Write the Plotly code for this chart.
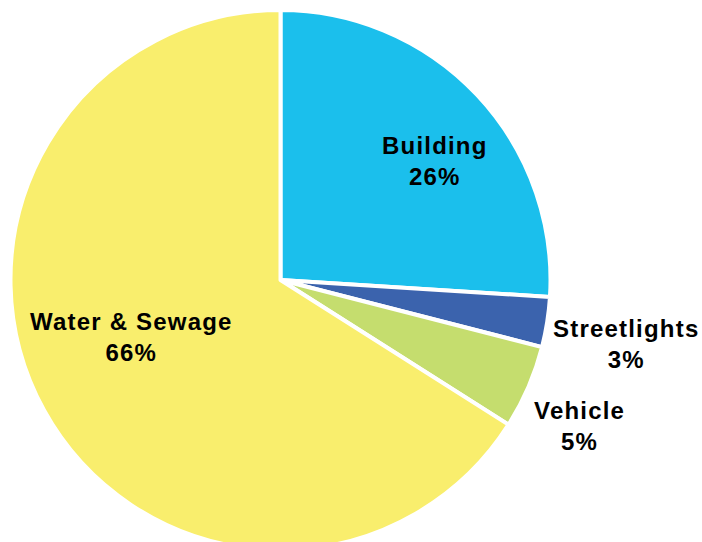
import plotly.graph_objects as go

# Energy use by sector (share of total, %)
categories = ["Building", "Streetlights", "Vehicle", "Water & Sewage"]
shares = [26, 3, 5, 66]
colors = ["#1BBFEC", "#3B63AD", "#C5DD6E", "#F9EE6D"]

W, H = 702, 552          # figure size in px (page clips at 542)
CX, CY, R = 280.5, 280, 270

# label anchor points (px) for each category, drawn as two-line text
label_px = {
    "Building": (435, 161),
    "Streetlights": (626, 344),
    "Vehicle": (579, 426),
    "Water & Sewage": (131, 337),
}

fig = go.Figure(
    go.Pie(
        labels=categories,
        values=shares,
        sort=False,
        direction="clockwise",
        rotation=0,
        marker=dict(colors=colors, line=dict(color="white", width=4)),
        textinfo="none",
        hoverinfo="label+percent",
        showlegend=False,
        domain=dict(
            x=[(CX - R) / W, (CX + R) / W],
            y=[1 - (CY + R) / H, 1 - (CY - R) / H],
        ),
    )
)

span = "<span style='letter-spacing:1.2px'>{}</span>"
for cat, val in zip(categories, shares):
    px, py = label_px[cat]
    fig.add_annotation(
        x=px / W,
        y=1 - py / H,
        xref="paper",
        yref="paper",
        xanchor="center",
        yanchor="middle",
        text=span.format(cat) + "<br>" + span.format(f"{val}%"),
        showarrow=False,
        align="center",
        font=dict(family="Liberation Sans, Arial, sans-serif", size=24,
                  color="black", weight="bold"),
    )

fig.update_layout(
    width=W,
    height=H,
    autosize=False,
    margin=dict(l=0, r=0, t=0, b=0),
    paper_bgcolor="white",
    plot_bgcolor="white",
)

fig.write_html(
    "out.html",
    post_script=(
        "document.documentElement.style.overflow='hidden';"
        "document.body.style.overflow='hidden';"
        "document.body.style.margin='0';"
    ),
)
